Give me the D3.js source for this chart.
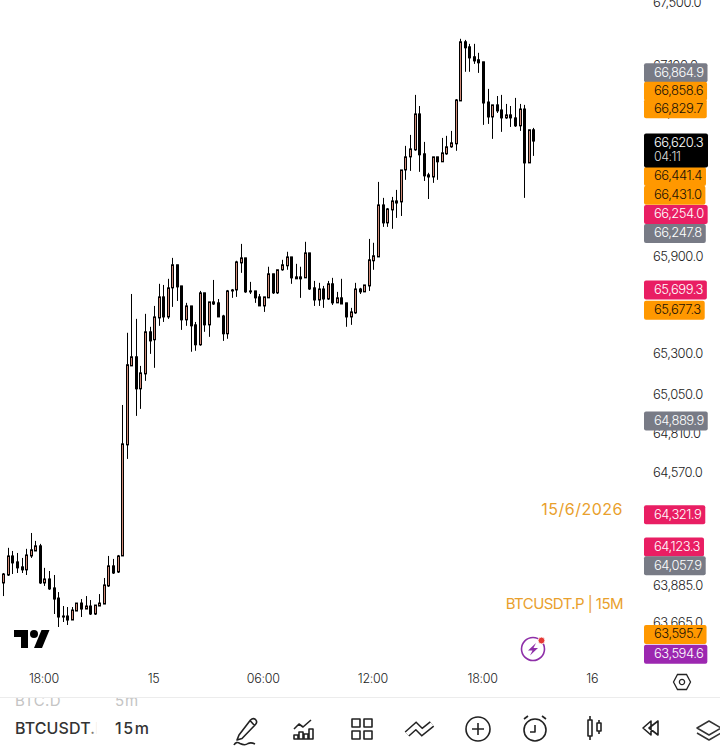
<!DOCTYPE html>
<html>
<head>
<meta charset="utf-8">
<script src="https://cdn.jsdelivr.net/npm/d3@7"></script>
<style>
  html, body { margin: 0; padding: 0; background: #fff; }
  svg { display: block; font-family: Inter, "Noto Sans", sans-serif; }
</style>
</head>
<body>
<div id="chart"></div>
<script>
// candles are 15m, first one opens 14 Jun 15:45
const opens = [63900,63948,64063,64027,63997,63979,64063,64093,64124,63900,63924,63870,63809,63701,63701,63677,63731,63779,63743,63761,
  63713,63761,63773,63882,64003,63966,64063,64738,65222,65278,65081,65173,65432,65383,65518,65648,65524,65704,65847,65716,
  65506,65592,65475,65352,65673,65475,65617,65611,65530,65420,65685,65691,65859,65890,65685,65685,65648,65592,65642,65791,
  65673,65816,65841,65896,65772,65772,65766,65921,65704,65629,65697,65635,65729,65611,65642,65611,65524,65549,65697,65679,
  65716,65872,65896,66220,66108,66189,66245,66239,66439,66521,66565,66791,66540,66408,66395,66521,66490,66540,66584,66603,
  66873,67247,67215,67152,67133,67120,66866,66772,66848,66816,66766,66785,66766,66716,66822,66483,66691];
const highs = [63960,64112,64093,64081,64051,64106,64202,64154,64136,63991,63972,63948,63845,63761,63755,63755,63779,63803,63821,63797,
  63767,63833,63930,64063,64045,64069,64982,65426,65666,65512,65222,65543,65463,65592,65729,65722,65760,65890,65847,65716,
  65611,65592,65493,65685,65673,65617,65753,65635,65537,65691,65697,65872,65977,65890,65741,65685,65666,65648,65835,65791,
  65816,65878,65928,65896,65853,65835,65990,65921,65747,65735,65716,65747,65766,65679,65760,65611,65580,65735,65704,65722,
  66008,65984,66364,66264,66201,66270,66314,66439,66590,66659,66911,66841,66615,66421,66521,66521,66640,66653,66684,66885,
  67266,67259,67234,67234,67177,67120,66949,66848,66904,66911,66854,66841,66892,66854,66848,66691,66703];
const lows = [63821,63942,63954,63960,63960,63948,64051,64093,63894,63882,63858,63713,63635,63665,63647,63677,63731,63695,63743,63707,
  63707,63761,63773,63876,63954,63960,64063,64652,65222,64915,64958,65130,65296,65210,65469,65493,65512,65586,65623,65444,
  65469,65309,65315,65346,65432,65401,65598,65524,65376,65389,65642,65648,65797,65673,65666,65611,65592,65555,65642,65666,
  65666,65810,65816,65729,65760,65642,65766,65691,65592,65592,65580,65629,65598,65611,65604,65463,65475,65543,65666,65679,
  65685,65816,65896,66083,66083,66071,66139,66151,66377,66433,66559,66427,66370,66257,66358,66377,66490,66534,66578,66559,
  66873,67057,67057,67107,67050,66722,66728,66634,66797,66678,66760,66709,66709,66684,66264,66483,66527];
const closes = [63954,64063,64021,63991,63979,64069,64100,64124,63900,63924,63864,63803,63695,63695,63677,63737,63779,63743,63761,63713,
  63767,63779,63888,64003,63960,64063,64744,65229,65278,65081,65179,65432,65376,65524,65648,65524,65704,65847,65710,65506,
  65592,65469,65352,65673,65475,65617,65604,65524,65420,65685,65691,65865,65890,65679,65679,65642,65592,65648,65791,65673,
  65816,65847,65896,65766,65760,65760,65921,65697,65629,65697,65635,65729,65611,65642,65604,65524,65555,65697,65679,65722,
  65878,65903,66220,66108,66195,66245,66232,66439,66521,66571,66791,66534,66402,66395,66521,66490,66546,66584,66609,66879,
  67247,67209,67145,67126,67114,66860,66772,66848,66810,66766,66785,66766,66716,66822,66483,66691,66620.3];

// price axis, the ones fully under a tag are left out
const priceTicks = [67500,67100,66800,65900,65300,65050,64810,64570,63885,63665];

// time axis
const timeTicks = ["2026-06-14T18:00","2026-06-15T00:00","2026-06-15T06:00","2026-06-15T12:00","2026-06-15T18:00","2026-06-16T00:00"];
const timeLabels = ["18:00","15","06:00","12:00","18:00","16"];

// price tags on the right
const tagPrices = [66864.9,66858.6,66829.7,66441.4,66431.0,66254.0,66247.8,65699.3,65677.3,64889.9,64321.9,64123.3,64057.9,63595.7,63594.6];
const tagColors = ["#787b86","#ff9800","#ff9800","#ff9800","#ff9800","#e91e63","#787b86","#e91e63","#ff9800","#787b86","#e91e63","#e91e63","#787b86","#ff9800","#9c27b0"];
// how far each tag got pushed from its real price so they dont sit on each other
const tagShift = [-29.5,-12,1,7,24,15,33,1.5,18,1,1.5,1,9,1,20.5];

const lastPrice = 66620.3;
const countdown = "04:11";

const width = 720, height = 749;

const svg = d3.select("#chart").append("svg")
    .attr("width", width)
    .attr("height", height)
    .attr("viewBox", [0, 0, width, height]);

const y = d3.scaleLog().domain([63665, 67500]).range([622, 2]);

const t0 = new Date("2026-06-14T15:45");
const times = opens.map((d, i) => new Date(+t0 + i * 15 * 60 * 1000));
const x = d3.scaleTime().domain([times[0], times[times.length - 1]]).range([3.3, 533.3]);

// axes go first, the tags cover part of the labels like in the app
const yAxis = d3.axisRight(y)
    .tickValues(priceTicks)
    .tickSize(0)
    .tickPadding(0)
    .tickFormat(d3.format(",.1f"));
svg.append("g")
    .attr("transform", "translate(653,0)")
    .call(yAxis)
    .call(g => g.select(".domain").remove())
    .selectAll("text")
    .attr("font-family", "Inter")
    .attr("font-size", 13)
    .attr("font-weight", 300)
    .attr("letter-spacing", -0.45)
    .attr("fill", "#222");

const xAxis = d3.axisBottom(x)
    .tickValues(timeTicks.map(d => new Date(d)))
    .tickSize(0)
    .tickPadding(0)
    .tickFormat((d, i) => timeLabels[i]);
svg.append("g")
    .attr("transform", "translate(-1,674)")
    .call(xAxis)
    .call(g => g.select(".domain").remove())
    .selectAll("text")
    .attr("font-family", "Inter")
    .attr("font-size", 12.5)
    .attr("font-weight", 300)
    .attr("letter-spacing", -0.3)
    .attr("fill", "#222");

// candles
const candles = svg.append("g").selectAll("g")
    .data(times)
    .join("g")
    .attr("transform", d => `translate(${Math.round(x(d)) + 0.5},0)`);

candles.append("line")
    .attr("y1", (d, i) => y(highs[i]))
    .attr("y2", (d, i) => y(lows[i]))
    .attr("stroke", "#000")
    .attr("stroke-width", 1);

candles.append("rect")
    .attr("x", -1)
    .attr("width", 2)
    .attr("y", (d, i) => y(Math.max(opens[i], closes[i])))
    .attr("height", (d, i) => Math.max(1, Math.abs(y(opens[i]) - y(closes[i]))))
    .attr("fill", (d, i) => closes[i] >= opens[i] ? "#d08a78" : "#000")
    .attr("stroke", "#000")
    .attr("stroke-width", 1);

// logo
svg.append("path")
    .attr("transform", "translate(14,626)")
    .attr("d", "M14 22H7V11H0V4h14v18zM28 22h-8l7.5-18h8L28 22z")
    .attr("fill", "#000");
svg.append("circle").attr("cx", 34).attr("cy", 634).attr("r", 4).attr("fill", "#000");

// notes on the chart
const notes = svg.append("g")
    .attr("font-family", "Inter")
    .attr("font-weight", 400)
    .attr("fill", "#e9a02c")
    .attr("text-anchor", "end");
notes.append("text").attr("x", 623).attr("y", 509).attr("dy", "0.35em")
    .attr("font-size", 16).attr("letter-spacing", 0.5).text("15/6/2026");
notes.append("text").attr("x", 623).attr("y", 604).attr("dy", "0.35em")
    .attr("font-size", 15).attr("letter-spacing", -0.55).text("BTCUSDT.P | 15M");

// bolt badge
const bolt = svg.append("g").attr("transform", "translate(533,649)");
bolt.append("circle").attr("r", 11.5).attr("fill", "none").attr("stroke", "#8e2fa8").attr("stroke-width", 1.6);
bolt.append("path").attr("d", "M3 -6L-5 1.5H-0.5L-3 6.5L5 -1H0.5Z").attr("fill", "#8e2fa8");
bolt.append("circle").attr("cx", 8.5).attr("cy", -8.5).attr("r", 3.4).attr("fill", "#e53935").attr("stroke", "#fff").attr("stroke-width", 0.8);

// tags
const tags = svg.append("g").selectAll("g")
    .data(tagPrices)
    .join("g")
    .attr("transform", (d, i) => `translate(644,${y(d) + tagShift[i]})`);

const tagRects = tags.append("rect")
    .attr("y", -9.5)
    .attr("height", 19)
    .attr("rx", 2)
    .attr("fill", (d, i) => tagColors[i]);

const tagTexts = tags.append("text")
    .attr("x", 10)
    .attr("dy", "0.3em")
    .attr("font-family", "Inter")
    .attr("font-size", 13)
    .attr("font-weight", 300)
    .attr("letter-spacing", -0.5)
    .attr("fill", (d, i) => tagColors[i] === "#ff9800" ? "#1a1206" : "#fff")
    .text(d => d3.format(",.1f")(d));

tagRects.attr("width", function (d, i) {
    return tagTexts.nodes()[i].getComputedTextLength() + 14;
});

// last price, the tall black one
const last = svg.append("g").attr("transform", `translate(644,${y(lastPrice)})`);
last.append("rect").attr("y", -7.5).attr("width", 64).attr("height", 34).attr("rx", 2).attr("fill", "#000");
last.append("text").attr("x", 10).attr("y", 1).attr("dy", "0.35em")
    .attr("font-family", "Inter").attr("font-size", 13).attr("font-weight", 300).attr("letter-spacing", -0.5)
    .attr("fill", "#fff").text(d3.format(",.1f")(lastPrice));
last.append("text").attr("x", 10).attr("y", 16).attr("dy", "0.35em")
    .attr("font-family", "Inter").attr("font-size", 12.5).attr("font-weight", 300).attr("letter-spacing", -0.5)
    .attr("fill", "#ddd").text(countdown);

// footer
svg.append("line").attr("x1", 0).attr("x2", width).attr("y1", 697.5).attr("y2", 697.5).attr("stroke", "#ececec");

const defs = svg.append("defs");
defs.append("clipPath").attr("id", "footclip").append("rect").attr("x", 0).attr("y", 698).attr("width", 220).attr("height", 51);
const fade = defs.append("linearGradient").attr("id", "fade");
fade.append("stop").attr("offset", "0%").attr("stop-color", "#fff").attr("stop-opacity", 0);
fade.append("stop").attr("offset", "100%").attr("stop-color", "#fff").attr("stop-opacity", 1);
const layerFade = defs.append("linearGradient").attr("id", "layerfade")
    .attr("gradientUnits", "userSpaceOnUse").attr("x1", 696).attr("x2", 720).attr("y1", 0).attr("y2", 0);
layerFade.append("stop").attr("offset", "0%").attr("stop-color", "#333");
layerFade.append("stop").attr("offset", "100%").attr("stop-color", "#ccc");

const foot = svg.append("g").attr("clip-path", "url(#footclip)").attr("font-family", "Inter");
foot.append("text").attr("x", 15).attr("y", 706).attr("font-size", 15).attr("fill", "#c4c4c4").attr("letter-spacing", 0.3).text("BTC.D");
foot.append("text").attr("x", 115).attr("y", 706).attr("font-size", 15).attr("fill", "#c4c4c4").attr("letter-spacing", 0.8).text("5m");
foot.append("text").attr("x", 15).attr("y", 734).attr("font-size", 16).attr("font-weight", 500).attr("letter-spacing", 0.1).attr("fill", "#333").text("BTCUSDT.P");
foot.append("rect").attr("x", 90).attr("y", 720).attr("width", 7).attr("height", 18).attr("fill", "url(#fade)");
foot.append("rect").attr("x", 97).attr("y", 720).attr("width", 17).attr("height", 18).attr("fill", "#fff");
foot.append("text").attr("x", 115).attr("y", 734).attr("font-size", 16).attr("font-weight", 500).attr("letter-spacing", 1.6).attr("fill", "#333").text("15m");

// toolbar icons, all hand drawn outlines
const icons = [
  [247, 728, "M-8 7L-10 12L-5 10.5L8 -3Q11 -6 8.5 -8.5Q6 -10.5 3.5 -8ZM3 -7.5L7.5 -2.5M-13 17Q-11 13 -7 15.5Q-2 18 1 15.5Q4 14 8 16"],
  [304, 728, "M-10 1L-5 -4L-1 -1L7 -8M-10 11V7H-6V11ZM-5 11V4H-1V11ZM0 11V6H4V11ZM5 11V1H9V11Z"],
  [362, 729, "M-10 -10H-2V-2H-10ZM2 -10H10V-2H2ZM-10 2H-2V10H-10ZM2 2H10V10H2Z"],
  [535, 730, "M0 -5V2H-5M-11 -11L-7 -14M11 -11L7 -14"],
  [593, 728, "M-5 -8H-1V8H-5ZM-3 -12V-8M-3 8V12M4 -5H8V3H4ZM6 -8V-5M6 3V6"],
  [651, 728, "M-8 0L0 -7V7ZM-2 0L7 -7V7Z"]
];
svg.append("g")
    .selectAll("path")
    .data(icons)
    .join("path")
    .attr("transform", d => `translate(${d[0]},${d[1]})`)
    .attr("d", d => d[2])
    .attr("fill", "none")
    .attr("stroke", "#222")
    .attr("stroke-width", 1.6)
    .attr("stroke-linejoin", "round");

// alarm clock body
svg.append("circle").attr("cx", 535).attr("cy", 730).attr("r", 11)
    .attr("fill", "none").attr("stroke", "#222").attr("stroke-width", 1.6);

// the double zigzag is an outline, so dark stroke with a white one on top
const zig = "M-12 5L-3 -3L3 3L13 -5";
[[7, "#222"], [4, "#fff"]].forEach(s => {
    svg.append("path")
        .attr("transform", "translate(419,729)")
        .attr("d", zig)
        .attr("fill", "none")
        .attr("stroke", s[1])
        .attr("stroke-width", s[0]);
});

// layers, runs off the edge and fades out
svg.append("path")
    .attr("transform", "translate(709,730)")
    .attr("d", "M-12 -2L0 -9L12 -2L0 5ZM-12 3L0 10L12 3")
    .attr("fill", "none")
    .attr("stroke", "url(#layerfade)")
    .attr("stroke-width", 1.5)
    .attr("stroke-linejoin", "round");

// plus in circle
const plus = svg.append("g").attr("transform", "translate(478,729)").attr("fill", "none").attr("stroke", "#222");
plus.append("circle").attr("r", 12).attr("stroke-width", 1.6);
plus.append("path").attr("d", "M-6 0H6M0 -6V6").attr("stroke-width", 1.6);

// settings hexagon next to the time axis
const hex = svg.append("g").attr("transform", "translate(682,682)").attr("fill", "none").attr("stroke", "#222").attr("stroke-width", 1.3);
hex.append("path").attr("d", "M-8.5 0L-4.5 -7.5H4.5L8.5 0L4.5 7.5H-4.5Z");
hex.append("circle").attr("r", 2.6);
</script>
</body>
</html>
